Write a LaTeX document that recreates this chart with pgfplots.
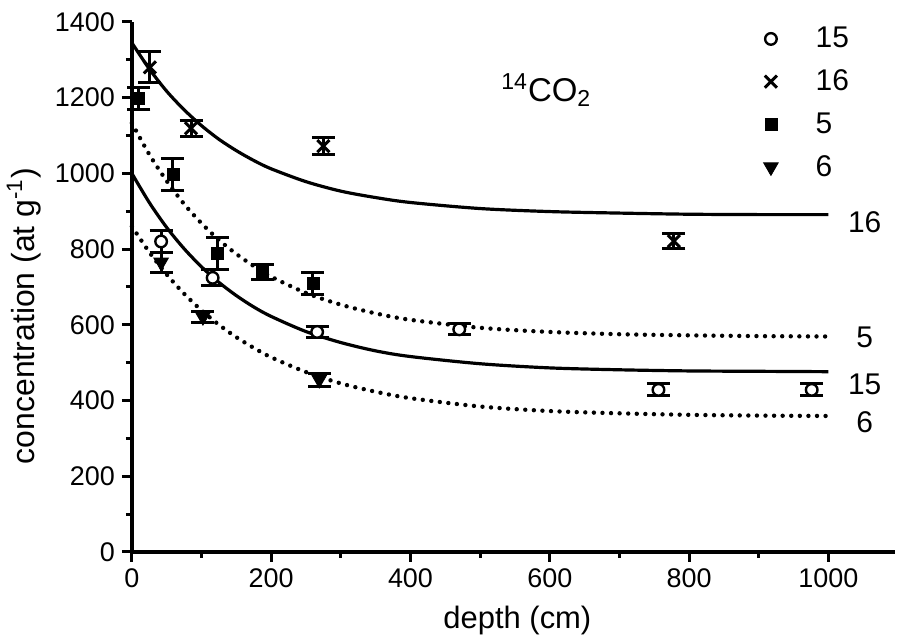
\documentclass[border=0pt]{standalone}
\usepackage{fontspec}
\setmainfont{Liberation Sans}
\usepackage{pgfplots}
\usepackage{pgfplotstable}
\pgfplotsset{compat=1.18}

% fitted curves
\pgfplotstableread{
x y16 y15 y5 y6
0 1345 1000 1133 860
25 1276 923 1050 792
50 1217 857 980 733
75 1168 801 919 682
100 1126 753 868 638
125 1090 712 824 600
150 1060 677 787 567
175 1034 647 755 539
200 1012 622 727 514
250 978 582 684 475
300 953 553 653 445
350 936 531 630 423
400 923 516 613 406
500 907 497 592 384
600 899 486 581 372
700 895 481 575 366
800 892 478 572 362
900 891 477 570 360
1000 891 476 569 359
}\fits

\begin{document}
\begin{tikzpicture}
\begin{axis}[
    scale only axis,
    width=382.5pt, height=265.5pt,
    xmin=0, xmax=1096, ymin=0, ymax=1400,
    axis x line=bottom, axis y line=left,
    axis line style={-, line width=1.7pt},
    tick align=outside,
    major tick length=5pt, minor tick length=3pt,
    tick style={line width=1.5pt, black},
    xtick={0,200,...,1000}, minor xtick={100,300,...,900},
    ytick={0,200,...,1400}, minor ytick={100,300,...,1300},
    ticklabel style={font=\fontsize{13.5}{15}\selectfont},
    /pgf/number format/assume math mode=true,
    /pgf/number format/1000 sep={},
    xlabel={depth (cm)},
    ylabel={concentration (at g\textsuperscript{-1})},
    xlabel style={at={(ticklabel cs:0.505)}, font=\fontsize{15.5}{18}\selectfont, yshift=-2pt},
    ylabel style={at={(ticklabel cs:0.445)}, font=\fontsize{16}{19}\selectfont},
    clip=false,
    legend image code/.code={\draw[#1] plot coordinates {(0cm,0cm)}; \path (-0.5cm,0) (0.5cm,0);},
    legend style={draw=none, fill=none, at={(0.791,1.006)}, anchor=north west,
        font=\fontsize{15}{18}\selectfont, row sep=5.5pt, column sep=6pt},
    legend cell align=left,
    error bars/y dir=both, error bars/y explicit,
    error bars/error bar style={line width=1.5pt, black},
    error bars/error mark options={rotate=90, mark size=5.75pt, line width=1.5pt, black},
]
\path (rel axis cs:-0.1725,-0.160) rectangle (rel axis cs:1,1.0414);

\addplot[only marks, mark=*, mark size=2.9pt, mark options={fill=white, draw=black, line width=1.2pt}]
coordinates {(42,820) +- (0,28) (116,724) +- (0,21) (266,581) +- (0,14)
 (470,588) +- (0,15) (756,428) +- (0,16) (976,428) +- (0,16)};
\addlegendentry{15}

\addplot[only marks, mark=x, mark size=4.3pt, mark options={line width=1.5pt, black}]
coordinates {(26,1280) +- (0,41) (85,1119) +- (0,21) (275,1072) +- (0,22) (778,821) +- (0,20)};
\addlegendentry{16}

\addplot[only marks, mark=square*, mark size=3pt, mark options={black}]
coordinates {(10,1198) +- (0,30) (59,997) +- (0,42) (123,788) +- (0,42)
 (188,740) +- (0,20) (260,710) +- (0,29)};
\addlegendentry{5}

\addplot[only marks, mark=triangle*, mark size=4.2pt, mark options={black, rotate=180}]
coordinates {(42,765) +- (0,27) (102,621) +- (0,15) (269,455) +- (0,17)};
\addlegendentry{6}

\addplot[forget plot, smooth, black, line width=1.6pt] table[x=x, y=y16] {\fits};
\addplot[forget plot, smooth, black, line width=1.6pt] table[x=x, y=y15] {\fits};
\addplot[forget plot, smooth, black, line width=2.2pt, line cap=round, dash pattern=on 0pt off 4.3pt] table[x=x, y=y5] {\fits};
\addplot[forget plot, smooth, black, line width=2.2pt, line cap=round, dash pattern=on 0pt off 4.3pt] table[x=x, y=y6] {\fits};

\node[font=\fontsize{16.5}{19}\selectfont] at (axis cs:595,1220) {\textsuperscript{14}CO\textsubscript{2}};
\node[font=\fontsize{15}{18}\selectfont] at (axis cs:1052,870) {16};
\node[font=\fontsize{15}{18}\selectfont] at (axis cs:1052,567) {5};
\node[font=\fontsize{15}{18}\selectfont] at (axis cs:1052,443) {15};
\node[font=\fontsize{15}{18}\selectfont] at (axis cs:1052,342) {6};
\end{axis}
\end{tikzpicture}
\end{document}
